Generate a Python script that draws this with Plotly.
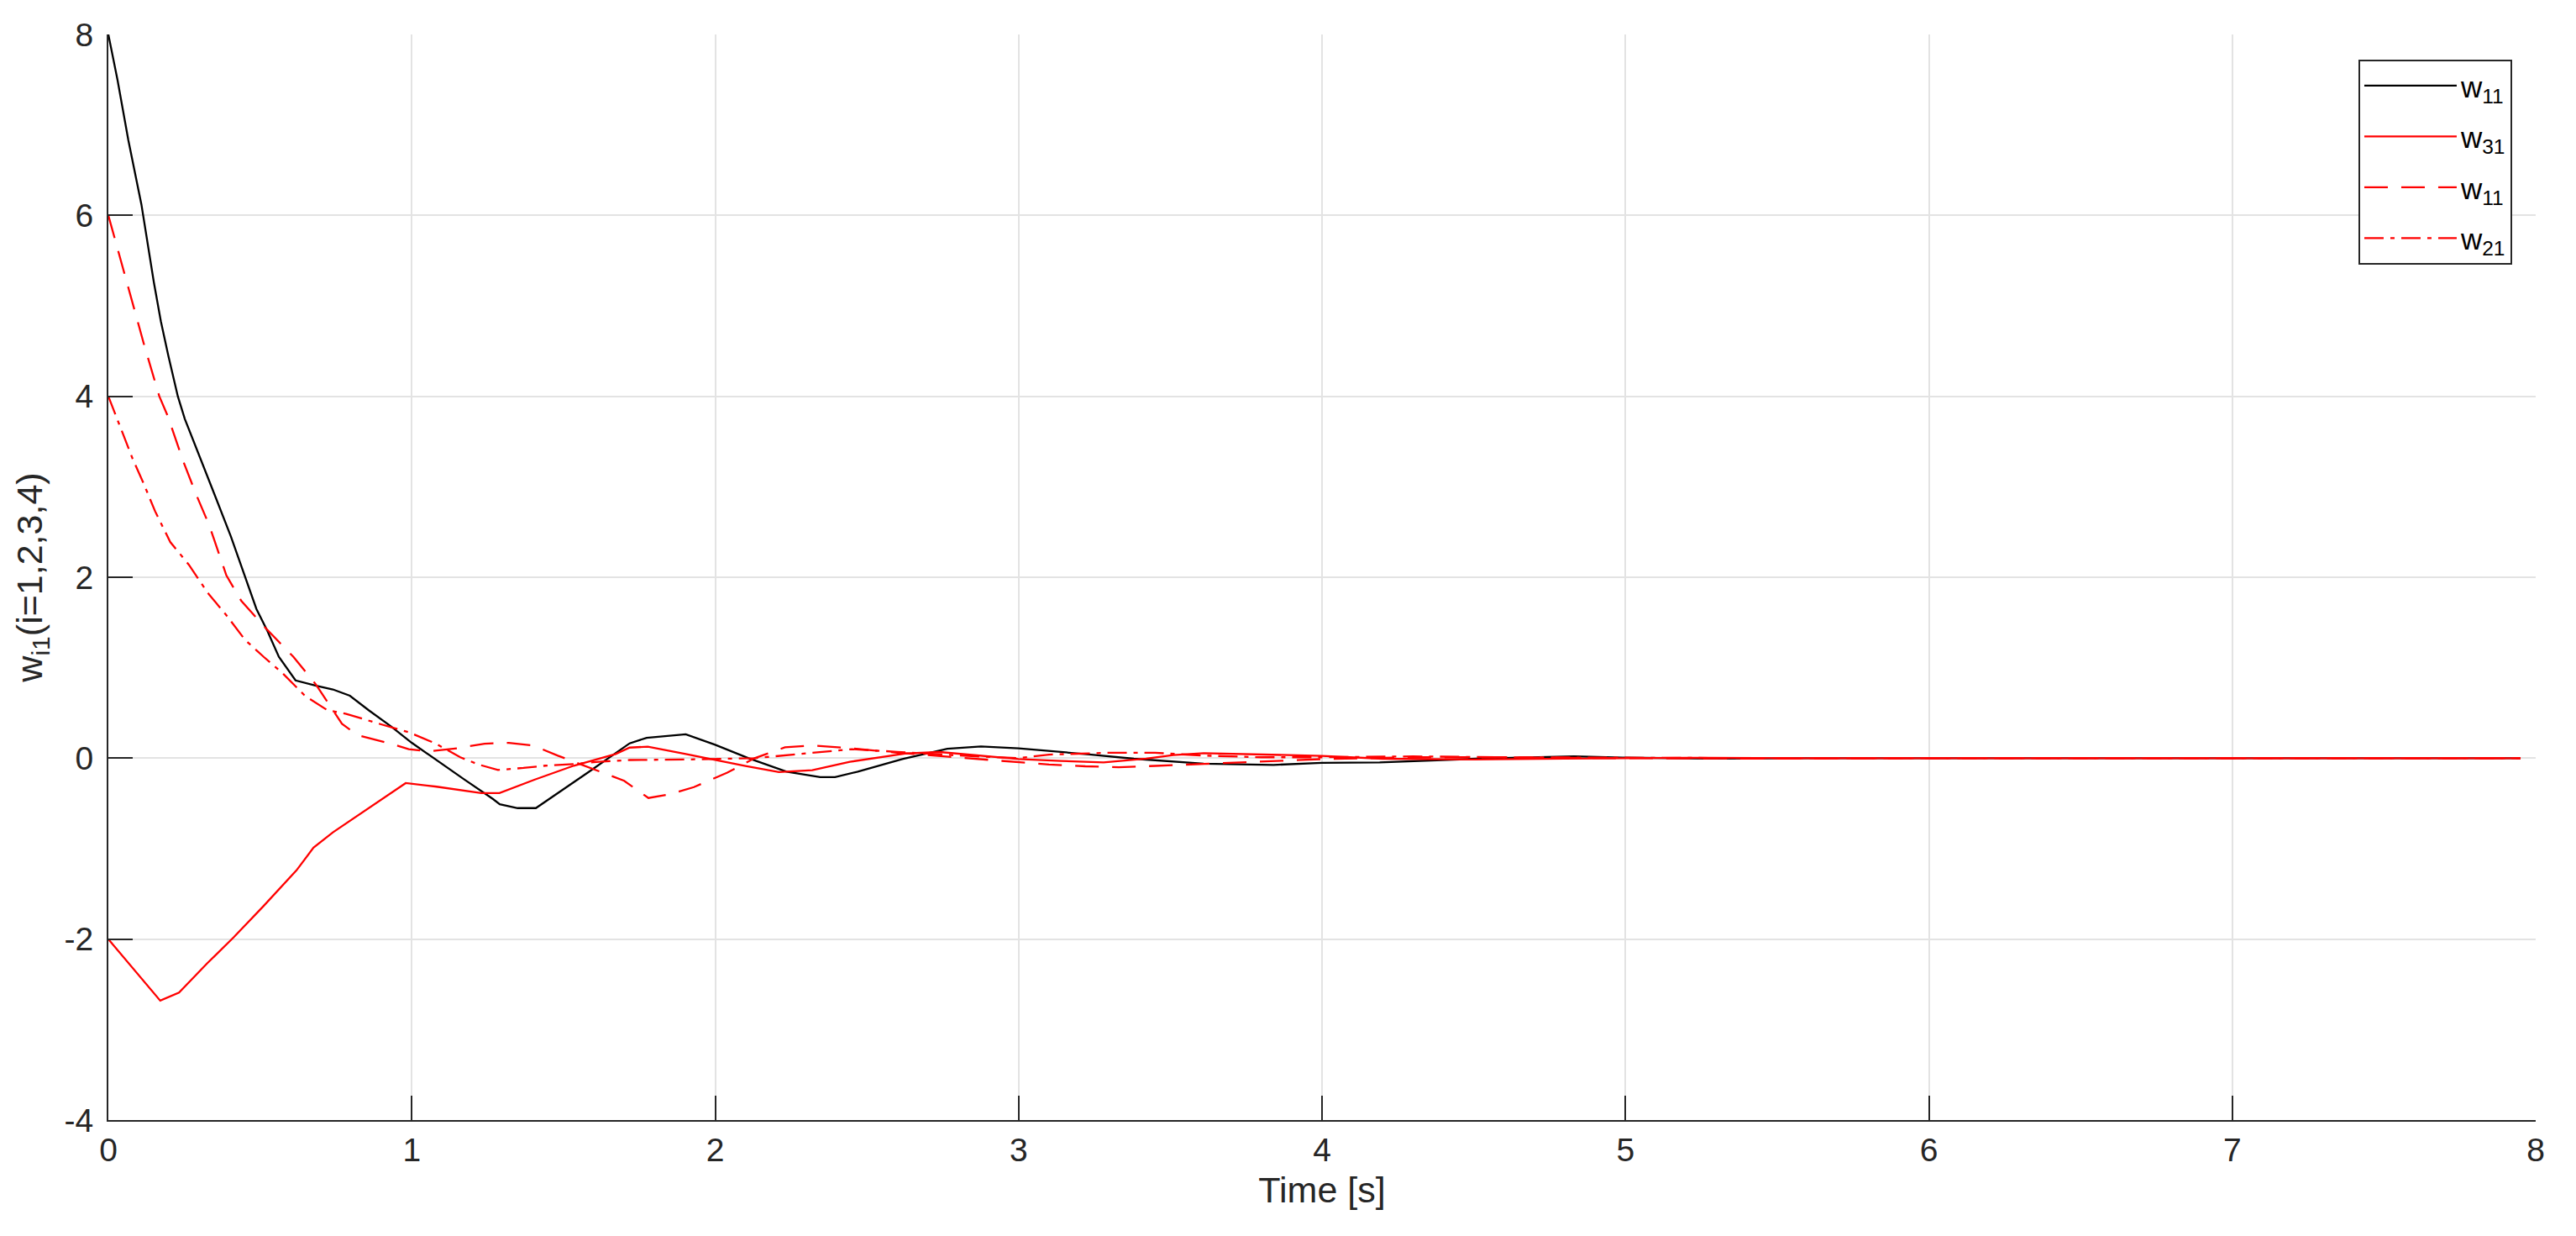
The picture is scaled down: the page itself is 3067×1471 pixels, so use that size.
import plotly.graph_objects as go

# ---- data ----
t_w11_black = [0, 0.03, 0.066, 0.109, 0.15, 0.173, 0.197, 0.229, 0.252, 0.289, 0.326, 0.354, 0.404, 0.45,
               0.488, 0.525, 0.562, 0.617, 0.685, 0.74, 0.796, 0.858, 0.932, 1.0, 1.08, 1.175, 1.267, 1.29,
               1.349, 1.409, 1.58, 1.718, 1.774, 1.903, 2.0, 2.11, 2.235, 2.346, 2.395, 2.47, 2.617, 2.765,
               2.876, 3.0, 3.24, 3.38, 3.61, 3.84, 4.0, 4.19, 4.51, 4.83, 4.99, 5.3, 5.6, 6.0, 7.0, 7.95]
y_w11_black = [8, 7.5, 6.83, 6.12, 5.26, 4.83, 4.46, 4.0, 3.75, 3.44, 3.13, 2.88, 2.45, 2.02,
               1.65, 1.40, 1.12, 0.86, 0.80, 0.76, 0.69, 0.53, 0.35, 0.17, -0.02, -0.24, -0.45, -0.51,
               -0.552, -0.552, -0.16, 0.164, 0.225, 0.265, 0.148, 0.0, -0.148, -0.21, -0.21, -0.148, -0.01, 0.105,
               0.13, 0.108, 0.04, -0.006, -0.06, -0.074, -0.052, -0.046, -0.006, 0.02, 0.006, -0.005, 0.0, 0.0, 0.0, 0.0]

t_w31 = [0, 0.171, 0.233, 0.325, 0.413, 0.51, 0.62, 0.676, 0.74, 0.86, 0.98, 1.082, 1.229, 1.289, 1.404,
         1.534, 1.672, 1.718, 1.778, 1.903, 2.0, 2.1, 2.21, 2.32, 2.444, 2.63, 2.74, 2.876, 3.0, 3.14, 3.28,
         3.42, 3.51, 3.61, 3.75, 4.0, 4.2, 4.5, 4.8, 5.2, 5.6, 6.0, 7.0, 7.95]
y_w31 = [-2, -2.68, -2.59, -2.27, -1.98, -1.64, -1.24, -0.99, -0.82, -0.55, -0.275, -0.315, -0.386, -0.386, -0.238,
         -0.083, 0.046, 0.117, 0.127, 0.046, -0.02, -0.086, -0.154, -0.133, -0.04, 0.052, 0.068, 0.031, -0.009, -0.03, -0.046,
         -0.006, 0.034, 0.056, 0.046, 0.025, -0.006, -0.015, -0.005, 0.004, 0.0, 0.0, 0.0, 0.0]

t_w11_red = [0, 0.034, 0.066, 0.117, 0.168, 0.196, 0.247, 0.29, 0.333, 0.389, 0.438, 0.512, 0.556, 0.61, 0.685,
             0.77, 0.82, 0.93, 0.99, 1.055, 1.15, 1.24, 1.32, 1.40, 1.48, 1.59, 1.70, 1.78, 1.85, 1.93, 2.04,
             2.13, 2.23, 2.32, 2.45, 2.6, 2.75, 2.93, 3.1, 3.22, 3.33, 3.45, 3.57, 3.7, 3.85, 4.0, 4.3, 4.6,
             5.0, 5.5, 6.0, 7.0, 7.95]
y_w11_red = [6, 5.6, 5.2, 4.58, 4.0, 3.78, 3.28, 2.91, 2.57, 2.02, 1.74, 1.46, 1.31, 1.12, 0.81,
             0.38, 0.256, 0.16, 0.1, 0.075, 0.11, 0.16, 0.17, 0.14, 0.03, -0.108, -0.25, -0.44, -0.40, -0.32, -0.16,
             0.0, 0.12, 0.14, 0.11, 0.06, 0.02, -0.03, -0.07, -0.09, -0.1, -0.085, -0.07, -0.05, -0.03, -0.01, 0.01, 0.01,
             0.0, -0.005, 0.0, 0.0, 0.0]

t_w21 = [0, 0.043, 0.08, 0.117, 0.154, 0.204, 0.265, 0.327, 0.389, 0.45, 0.512, 0.574, 0.648, 0.722, 0.784,
         0.887, 0.99, 1.08, 1.16, 1.22, 1.284, 1.368, 1.44, 1.534, 1.626, 1.718, 1.90, 2.13, 2.3, 2.45, 2.6,
         2.8, 3.0, 3.1, 3.3, 3.45, 3.6, 3.8, 4.0, 4.3, 4.6, 5.0, 5.5, 6.0, 7.0, 7.95]
y_w21 = [4, 3.62, 3.31, 3.03, 2.73, 2.39, 2.14, 1.83, 1.58, 1.31, 1.12, 0.94, 0.69, 0.53, 0.49,
         0.386, 0.287, 0.16, 0.01, -0.07, -0.13, -0.108, -0.083, -0.065, -0.037, -0.02, -0.015, 0.0, 0.05, 0.1, 0.07,
         0.03, 0.0, 0.04, 0.06, 0.06, 0.03, 0.01, 0.01, 0.02, 0.01, 0.005, 0.0, 0.0, 0.0, 0.0]

x_ticks = [0, 1, 2, 3, 4, 5, 6, 7, 8]
y_ticks = [-4, -2, 0, 2, 4, 6, 8]

FONT = "Liberation Sans, Arial, Helvetica, sans-serif"
AX = "#262626"
GRID = "#e3e3e3"

fig = go.Figure()
fig.add_trace(go.Scatter(x=t_w11_black, y=y_w11_black, mode="lines", name="w<sub>11</sub>", legendgroup="a",
                         line=dict(color="#000000", width=2.3)))
fig.add_trace(go.Scatter(x=t_w31, y=y_w31, mode="lines", name="w<sub>31</sub>", legendgroup="b",
                         line=dict(color="#ff0000", width=2.3)))
fig.add_trace(go.Scatter(x=t_w11_red, y=y_w11_red, mode="lines", name="w<sub>11</sub>", legendgroup="c",
                         line=dict(color="#ff0000", width=2.3, dash="28px,16px")))
fig.add_trace(go.Scatter(x=t_w21, y=y_w21, mode="lines", name="w<sub>21</sub>", legendgroup="d",
                         line=dict(color="#ff0000", width=2.3, dash="23px,8px,5px,8px")))

# page body adds an 8px margin; figure is sized/offset to compensate
fig.update_layout(
    width=3051, height=1455,
    margin=dict(l=121, r=40, t=29, b=130),
    paper_bgcolor="white", plot_bgcolor="white",
    font=dict(family=FONT, size=39, color=AX),
    showlegend=True,
    legend=dict(x=0.9903, y=0.977, xanchor="right", yanchor="top",
                bgcolor="white", bordercolor=AX, borderwidth=2,
                font=dict(family=FONT, size=35, color="#000000"),
                itemwidth=110, tracegroupgap=12),
    xaxis=dict(range=[0, 8], tickvals=x_ticks, ticktext=[str(v) for v in x_ticks],
               showgrid=True, gridcolor=GRID, gridwidth=2,
               showline=True, linecolor=AX, linewidth=2,
               ticks="inside", ticklen=29, tickwidth=2, tickcolor=AX,
               zeroline=False, mirror=False,
               tickfont=dict(family=FONT, size=39, color=AX),
               title=dict(text="Time [s]", font=dict(family=FONT, size=43, color=AX), standoff=12)),
    yaxis=dict(range=[-4, 8], tickvals=y_ticks, ticktext=[str(v) for v in y_ticks],
               showgrid=True, gridcolor=GRID, gridwidth=2,
               showline=True, linecolor=AX, linewidth=2,
               ticks="inside", ticklen=29, tickwidth=2, tickcolor=AX,
               zeroline=False, mirror=False,
               tickfont=dict(family=FONT, size=39, color=AX),
               ticklabelstandoff=8,
               title=dict(text="w<sub>i1</sub>(i=1,2,3,4)", font=dict(family=FONT, size=43, color=AX), standoff=12)),
)

fig.write_html("out.html")
